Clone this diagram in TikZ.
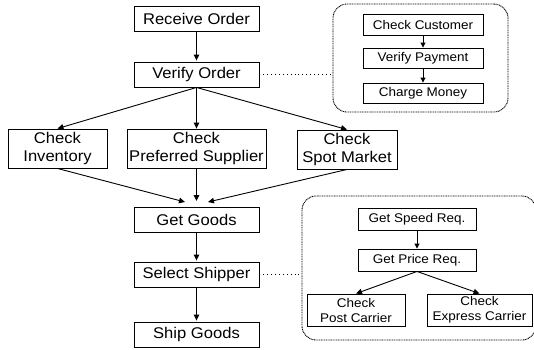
\documentclass[tikz,border=0pt]{standalone}
\usepackage{fontspec}
\setmainfont{Liberation Sans}
\newfontfamily\boxfont[FakeStretch=1.07]{Liberation Sans}
\usetikzlibrary{arrows.meta}
\begin{document}
\begin{tikzpicture}[x=1pt,y=-1pt,
  box/.style={draw,line width=0.9pt,inner sep=0pt,align=center,
    font=\boxfont\fontsize{15.5}{17.5}\selectfont},
  sbox/.style={draw,line width=0.9pt,inner sep=0pt,align=center,
    font=\boxfont\fontsize{12.6}{15}\selectfont},
  flow/.style={-{Triangle[length=6pt,width=5.5pt]},line width=0.9pt},
  group/.style={draw,dash pattern=on 1pt off 0.7pt,line width=0.9pt,
    rounded corners=14pt,inner sep=0pt},
  link/.style={dash pattern=on 0.9pt off 3pt,line width=0.9pt}]
\useasboundingbox (0,0) rectangle (534,349);

% main process
\node[box,minimum width=125,minimum height=25] (recv)   at (196.5,19)  {Receive Order};
\node[box,minimum width=125,minimum height=25] (verify) at (196.5,74.5) {Verify Order};
\node[box,minimum width=99,minimum height=39]  (inv)    at (57.5,148.5) {Check\\Inventory};
\node[box,minimum width=139,minimum height=39] (pref)   at (196.5,148.5) {Check\\Preferred Supplier};
\node[box,minimum width=100,minimum height=39] (spot)   at (347,149.5) {Check\\Spot Market};
\node[box,minimum width=125,minimum height=25] (get)    at (196.5,219.5) {Get Goods};
\node[box,minimum width=125,minimum height=25] (select) at (196.5,274.5) {Select Shipper};
\node[box,minimum width=125,minimum height=25] (ship)   at (196.5,334.5) {Ship Goods};

% arrow ends just above Get Goods
\coordinate (gL) at (185,202);
\coordinate (gC) at (196.5,201);
\coordinate (gR) at (208,202);

\draw[flow,shorten >=1pt] (recv) -- (verify);
\draw[flow] (verify.south) -- (inv.north);
\draw[flow] (verify.south) -- (pref.north);
\draw[flow] (verify.south) -- (spot.north);
\draw[flow] (inv.south) -- (gL);
\draw[flow] (pref.south) -- (gC);
\draw[flow] (spot.south) -- (gR);
\draw[flow,shorten >=1pt] (get) -- (select);
\draw[flow,shorten >=1pt] (select) -- (ship);

% payment sub-process
\node[group,minimum width=175,minimum height=108] (pay) at (420.5,58) {};
\node[sbox,minimum width=120,minimum height=21] (cc) at (423,24.5) {Check Customer};
\node[sbox,minimum width=120,minimum height=20] (vp) at (423,58)   {Verify Payment};
\node[sbox,minimum width=120,minimum height=20] (cm) at (423,93)   {Charge Money};
\draw[flow,-{Triangle[length=5pt,width=5pt]}] (cc) -- (vp);
\draw[flow,-{Triangle[length=5pt,width=5pt]}] (vp) -- (cm);
\draw[link] (verify.east) -- (verify.east -| pay.west);

% shipping sub-process
\node[group,minimum width=234,minimum height=144] (shipsub) at (419,268) {};
\node[sbox,minimum width=118,minimum height=22] (speed) at (417,219.5) {Get Speed Req.};
\node[sbox,minimum width=118,minimum height=22] (price) at (417,260)   {Get Price Req.};
\node[sbox,minimum width=98,minimum height=32]  (post)  at (356,310)   {Check\\Post Carrier};
\node[sbox,minimum width=105,minimum height=32] (expr)  at (479.5,310) {Check\\Express Carrier};
\draw[flow,-{Triangle[length=5pt,width=5pt]}] (speed) -- (price);
\draw[flow] (price.south) -- (post.north);
\draw[flow] (price.south) -- (expr.north);
\draw[link] (select.east) -- (select.east -| shipsub.west);
\end{tikzpicture}
\end{document}
